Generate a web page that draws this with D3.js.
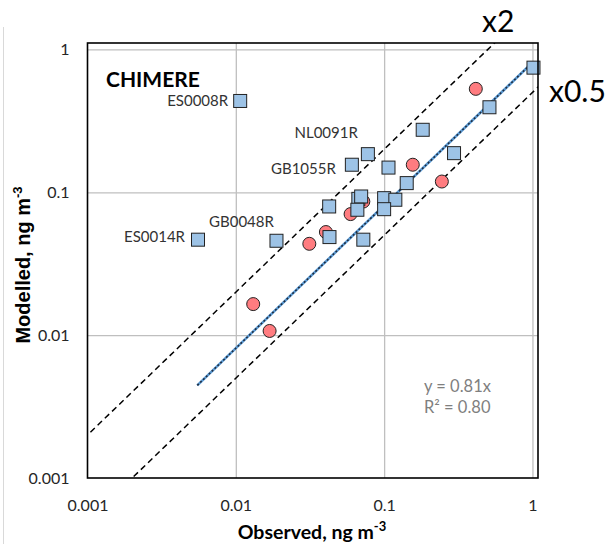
<!DOCTYPE html>
<html>
<head>
<meta charset="utf-8">
<script src="https://cdn.jsdelivr.net/npm/d3@7"></script>
<style>
  body { margin: 0; background: #fff; }
  svg { font-family: Lato, "Open Sans", sans-serif; }
</style>
</head>
<body>
<div id="chart"></div>
<script>
// observed / modelled values, ng m-3
var squareObs = [0.0107, 0.00556, 0.0188, 1.016, 0.513, 0.182, 0.296, 0.0777, 0.0606, 0.107,
                 0.142, 0.067, 0.070, 0.066, 0.100, 0.119, 0.100, 0.0426, 0.0428, 0.0724];
var squareMod = [0.436, 0.0466, 0.0458, 0.746, 0.394, 0.274, 0.188, 0.185, 0.156, 0.149,
                 0.116, 0.090, 0.0935, 0.0755, 0.091, 0.0887, 0.0762, 0.0796, 0.0486, 0.0466];
var circleObs = [0.415, 0.156, 0.245, 0.0724, 0.0594, 0.0405, 0.0313, 0.0131, 0.0169];
var circleMod = [0.53, 0.156, 0.119, 0.0862, 0.0704, 0.0527, 0.0436, 0.0165, 0.0107];

// site labels -> index in the square series
var siteNames = ["ES0008R", "ES0014R", "GB0048R", "NL0091R", "GB1055R"];
var sitePoint = [0, 1, 2, 7, 8];

var tickValues = [0.001, 0.01, 0.1, 1];
var tickLabels = ["0.001", "0.01", "0.1", "1"];
var slope = 0.81;
var rSquared = "0.80";
var fitRange = [0.0055, 1.0];
var bandFactors = [2, 0.5];

// Sizing
var width = 614;
var height = 544;
var plot = {left: 87.5, right: 538, top: 43, bottom: 478};

// label offsets relative to their point (anchor, dx, dy)
var labelPlace = [
    ["end", -12, 5],
    ["end", -13, 2],
    ["middle", -35, -14],
    ["end", -10, -16],
    ["end", -16, 9]
];

var svg = d3.select('#chart').append('svg')
    .attr('width', width)
    .attr('height', height);

var x = d3.scaleLog().domain([0.001, 1.09]).range([plot.left, plot.right]);
var y = d3.scaleLog().domain([0.001, 1.11]).range([plot.bottom, plot.top]);

// faint chart-area edge on the left
svg.append('line')
    .attr('x1', 3.5).attr('x2', 3.5)
    .attr('y1', 27).attr('y2', height)
    .attr('stroke', '#d9d9d9').attr('stroke-width', 1);

// gridlines
var gridX = d3.axisBottom(x).tickValues(tickValues.slice(1))
    .tickSize(-(plot.bottom - plot.top)).tickFormat('');
svg.append('g')
    .attr('transform', 'translate(0,' + plot.bottom + ')')
    .call(gridX)
    .call(function (g) {
        g.select('.domain').remove();
        g.selectAll('line').attr('stroke', '#bfbfbf').attr('stroke-width', 1.3);
    });

var gridY = d3.axisLeft(y).tickValues(tickValues.slice(1))
    .tickSize(-(plot.right - plot.left)).tickFormat('');
svg.append('g')
    .attr('transform', 'translate(' + plot.left + ',0)')
    .call(gridY)
    .call(function (g) {
        g.select('.domain').remove();
        g.selectAll('line').attr('stroke', '#bfbfbf').attr('stroke-width', 1.3);
    });

// tick labels
var xAxis = d3.axisBottom(x).tickValues(tickValues).tickSize(0).tickPadding(22)
    .tickFormat(function (d, i) { return tickLabels[i]; });
svg.append('g')
    .attr('transform', 'translate(0,' + plot.bottom + ')')
    .call(xAxis)
    .call(function (g) {
        g.select('.domain').remove();
        g.selectAll('text').attr('font-size', 16).attr('fill', '#262626')
            .attr('font-family', 'Lato, sans-serif');
    });

var yAxis = d3.axisLeft(y).tickValues(tickValues).tickSize(0).tickPadding(18)
    .tickFormat(function (d, i) { return tickLabels[i]; });
svg.append('g')
    .attr('transform', 'translate(' + plot.left + ',0)')
    .call(yAxis)
    .call(function (g) {
        g.select('.domain').remove();
        g.selectAll('text').attr('font-size', 16).attr('fill', '#262626')
            .attr('font-family', 'Lato, sans-serif');
    });

// clip for lines
svg.append('clipPath').attr('id', 'plotclip')
    .append('rect')
    .attr('x', plot.left).attr('y', plot.top)
    .attr('width', plot.right - plot.left).attr('height', plot.bottom - plot.top);

var lines = svg.append('g').attr('clip-path', 'url(#plotclip)');

// x2 and x0.5 bands
var line = d3.line()
    .x(function (d) { return x(d[0]); })
    .y(function (d) { return y(d[1]); });

bandFactors.forEach(function (f) {
    var pts = [[0.0001, 0.0001 * f], [10, 10 * f]];
    lines.append('path')
        .attr('d', line(pts))
        .attr('fill', 'none')
        .attr('stroke', '#000')
        .attr('stroke-width', 1.5)
        .attr('stroke-dasharray', '6,4');
});

// trendline y = 0.81x
var fitPts = fitRange.map(function (v) { return [v, v * slope]; });
lines.append('path')
    .attr('d', line(fitPts))
    .attr('fill', 'none')
    .attr('stroke', '#5b9bd5')
    .attr('stroke-width', 2.6);
lines.append('path')
    .attr('d', line(fitPts))
    .attr('fill', 'none')
    .attr('stroke', '#1f2d40')
    .attr('stroke-width', 1.6)
    .attr('stroke-dasharray', '2,2');

// points - circles under squares like the original
var circles = circleObs.map(function (v, i) { return {x: v, y: circleMod[i]}; });
var squares = squareObs.map(function (v, i) { return {x: v, y: squareMod[i]}; });

svg.append('g').selectAll('circle')
    .data(circles)
    .enter().append('circle')
    .attr('cx', function (d) { return x(d.x); })
    .attr('cy', function (d) { return y(d.y); })
    .attr('r', 6.5)
    .attr('fill', '#ff7c80')
    .attr('stroke', '#222')
    .attr('stroke-width', 1);

var sq = 13;
svg.append('g').selectAll('rect')
    .data(squares)
    .enter().append('rect')
    .attr('x', function (d) { return x(d.x) - sq / 2; })
    .attr('y', function (d) { return y(d.y) - sq / 2; })
    .attr('width', sq)
    .attr('height', sq)
    .attr('fill', '#9dc3e6')
    .attr('stroke', '#222')
    .attr('stroke-width', 1);

// site labels
svg.append('g').selectAll('text')
    .data(siteNames)
    .enter().append('text')
    .attr('x', function (d, i) { return x(squareObs[sitePoint[i]]) + labelPlace[i][1]; })
    .attr('y', function (d, i) { return y(squareMod[sitePoint[i]]) + labelPlace[i][2]; })
    .attr('text-anchor', function (d, i) { return labelPlace[i][0]; })
    .attr('font-size', 15)
    .attr('fill', '#333')
    .text(function (d) { return d; });

// frame
svg.append('rect')
    .attr('x', plot.left).attr('y', plot.top)
    .attr('width', plot.right - plot.left).attr('height', plot.bottom - plot.top)
    .attr('fill', 'none')
    .attr('stroke', '#000')
    .attr('stroke-width', 1.6);

// model name
svg.append('text')
    .attr('x', 106).attr('y', 87)
    .attr('font-size', 21).attr('font-weight', 'bold')
    .attr('fill', '#000')
    .text('CHIMERE');

// regression text
var eq = svg.append('text')
    .attr('x', 424).attr('y', 392)
    .attr('font-size', 16.5).attr('fill', '#7f7f7f');
eq.append('tspan').text('y = ' + slope + 'x');
eq.append('tspan').attr('x', 424).attr('dy', 21).text('R\u00b2 = ' + rSquared);

// band labels
svg.append('text')
    .attr('x', 482).attr('y', 32)
    .attr('font-size', 30).attr('fill', '#000')
    .text('x2');
svg.append('text')
    .attr('x', 549).attr('y', 102)
    .attr('font-size', 30).attr('fill', '#000')
    .text('x0.5');

// axis titles
var xt = svg.append('text')
    .attr('x', 312).attr('y', 539)
    .attr('text-anchor', 'middle')
    .attr('font-size', 19.5).attr('font-weight', 'bold')
    .attr('fill', '#000');
xt.append('tspan').text('Observed, ng m');
xt.append('tspan').attr('dy', -8).attr('font-size', 13).text('-3');

var yt = svg.append('text')
    .attr('transform', 'translate(30,265) rotate(-90)')
    .attr('text-anchor', 'middle')
    .attr('font-family', '"Liberation Sans", Arial, sans-serif')
    .attr('font-size', 20).attr('font-weight', 'bold')
    .attr('fill', '#000');
yt.append('tspan').text('Modelled, ng m');
yt.append('tspan').attr('dy', -8).attr('font-size', 13).text('-3');
</script>
</body>
</html>
